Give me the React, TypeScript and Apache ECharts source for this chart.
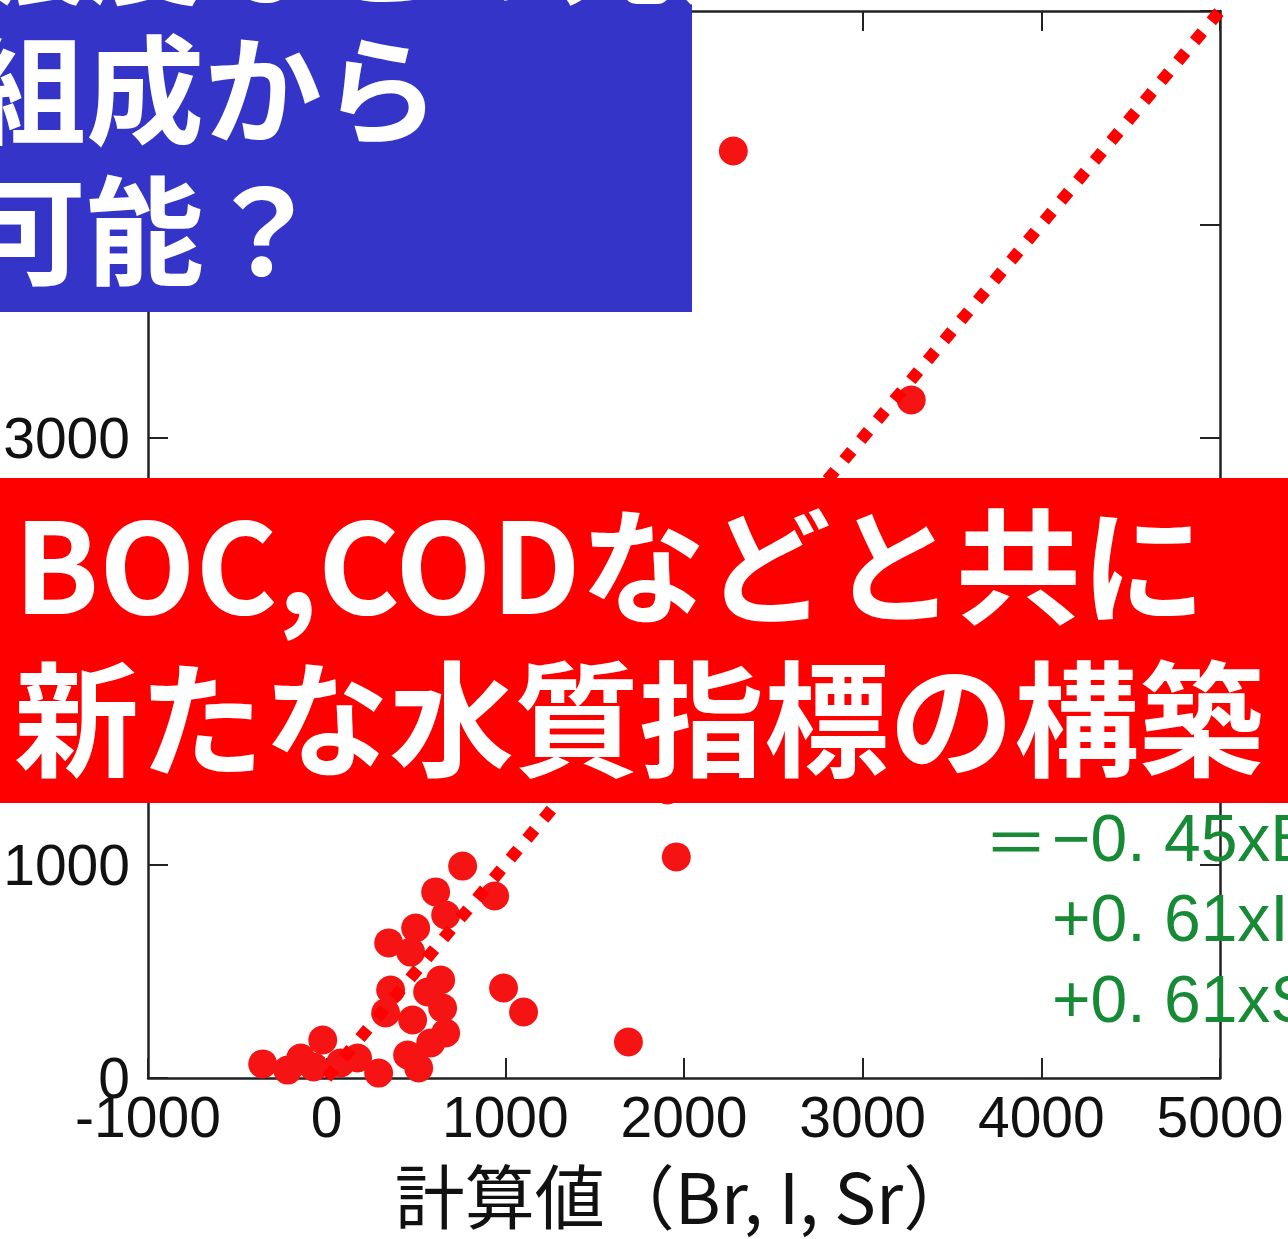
import React, { useEffect, useRef } from "react";
import * as echarts from "echarts";

// Scatter data: calculated value (Br, I, Sr) vs measured value
const calcX = [2276, 3272, 1957, 1689, 1907, 761, 610, 940, 666, 498, 347, 470, 358, 638, 565, 990, 1102, 330, 481, 649, 666, 582, 453, 515, -22, -145, -218, -358, 173, 291, 78, -73];
const measY = [4344, 3177, 1036, 169, 1350, 993, 872, 853, 764, 703, 633, 590, 412, 459, 403, 422, 309, 305, 272, 328, 211, 164, 108, 47, 178, 94, 37, 66, 94, 23, 70, 52];

// 1:1 reference line
const refLineX = [0, 5000];
const refLineY = [0, 5000];

const xTicks = { min: -1000, max: 5000, interval: 1000 };
const yTicks = { min: 0, max: 5000, interval: 1000 };

const xAxisName = "計算値（Br, I, Sr）";
const equationLines = ["−0. 45xBr", "+0. 61xI", "+0. 61xSr"];
const blueLines = ["濃度などの元素", "組成から", "可能？"];
const redLines = ["BOC,CODなどと共に", "新たな水質指標の構築"];

const LATIN = "'Liberation Sans', Arial, sans-serif";
const CJK = "'Noto Sans CJK JP', 'Noto Sans', sans-serif";

export default function App() {
  const ref = useRef<HTMLDivElement>(null);
  useEffect(() => {
    if (!ref.current) return;
    const chart = echarts.init(ref.current, null, { renderer: "svg" });
    const scatterData = calcX.map((x, i) => [x, measY[i]]);
    const lineData = refLineX.map((x, i) => [x, refLineY[i]]);
    const axisLineStyle = { color: "#222", width: 2.5 };
    const tickStyle = { show: true, inside: true, length: 20, lineStyle: { color: "#222", width: 2 } };
    const labelStyle = { fontSize: 57, fontFamily: LATIN, color: "#111", formatter: (v: number) => String(v) };
    const blueY = [-57, 83, 224];
    chart.setOption({
      animation: false,
      backgroundColor: "#fff",
      grid: { left: 148, right: 68, top: 11, bottom: 161, outerBoundsMode: "none", containLabel: false },
      xAxis: [
        {
          type: "value", ...xTicks, position: "bottom",
          axisLine: { show: true, onZero: false, lineStyle: axisLineStyle },
          axisTick: tickStyle, splitLine: { show: false },
          axisLabel: { ...labelStyle, margin: 10 },
          name: xAxisName, nameLocation: "middle", nameGap: 80,
          nameTextStyle: { fontSize: 70, fontFamily: CJK, color: "#111" },
        },
        {
          type: "value", ...xTicks, position: "top",
          axisLine: { show: true, onZero: false, lineStyle: axisLineStyle },
          axisTick: tickStyle, splitLine: { show: false }, axisLabel: { show: false },
        },
      ],
      yAxis: [
        {
          type: "value", ...yTicks, position: "left",
          axisLine: { show: true, onZero: false, lineStyle: axisLineStyle },
          axisTick: tickStyle, splitLine: { show: false },
          axisLabel: { ...labelStyle, margin: 18 },
        },
        {
          type: "value", ...yTicks, position: "right",
          axisLine: { show: true, onZero: false, lineStyle: axisLineStyle },
          axisTick: tickStyle, splitLine: { show: false }, axisLabel: { show: false },
        },
      ],
      series: [
        {
          type: "scatter", data: scatterData, symbolSize: 29,
          itemStyle: { color: "#f51313", opacity: 1 }, z: 2,
        },
        {
          type: "line", data: lineData, symbol: "none", z: 3,
          lineStyle: { color: "#ff0000", width: 12, type: [12, 14], cap: "butt" },
        },
      ],
      graphic: [
        { type: "text", x: 984, y: 838, z: 10, style: { text: "＝", font: `64px ${CJK}`, fill: "#178a36", verticalAlign: "middle" } },
        { type: "text", x: 1052, y: 838, z: 10, style: { text: equationLines[0], font: `66px ${LATIN}`, fill: "#178a36", verticalAlign: "middle" } },
        { type: "text", x: 1052, y: 918, z: 10, style: { text: equationLines[1], font: `66px ${LATIN}`, fill: "#178a36", verticalAlign: "middle" } },
        { type: "text", x: 1052, y: 999, z: 10, style: { text: equationLines[2], font: `66px ${LATIN}`, fill: "#178a36", verticalAlign: "middle" } },
        { type: "rect", z: 100, shape: { x: 0, y: 0, width: 692, height: 312 }, style: { fill: "#3434c9" } },
        ...blueLines.map((t, i) => ({
          type: "text", z: 101, x: -32, y: blueY[i],
          style: { text: t, font: `bold 118px ${CJK}`, fill: "#fff", verticalAlign: "middle" },
        })),
        { type: "rect", z: 100, shape: { x: 0, y: 478, width: 1288, height: 325 }, style: { fill: "#ff0000" } },
        ...redLines.map((t, i) => ({
          type: "text", z: 101, x: 14, y: 559 + i * 153,
          style: { text: t, font: `bold 125px ${CJK}`, fill: "#fff", verticalAlign: "middle" },
        })),
      ],
    });
    return () => chart.dispose();
  }, []);
  return (
    <div
      ref={ref}
      style={{ position: "absolute", left: 0, top: 0, width: 1288, height: 1239 }}
    />
  );
}
